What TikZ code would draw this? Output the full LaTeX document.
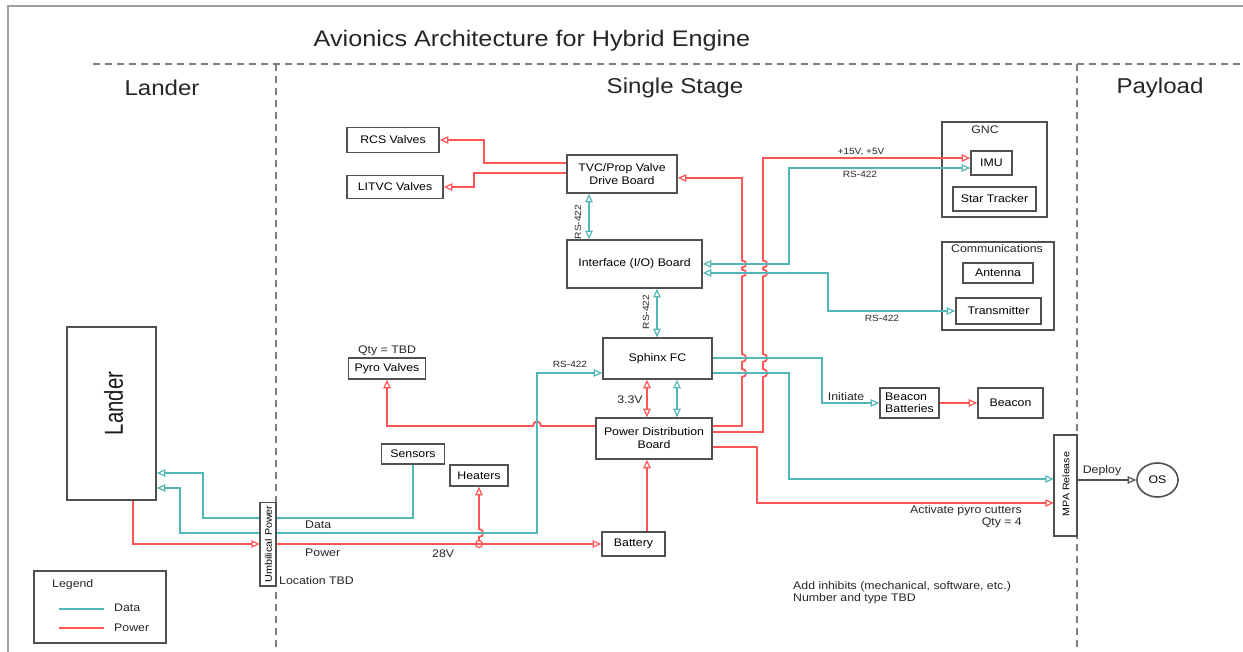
\documentclass[tikz,border=0pt]{standalone}
\usepackage{fontspec}
\setmainfont{Liberation Sans}[FakeStretch=1.12]
\newfontfamily\landerfont{Liberation Sans}[FakeStretch=0.78]
\usetikzlibrary{arrows.meta,calc,shapes.geometric}
\definecolor{dteal}{RGB}{82,182,182}
\definecolor{pred}{RGB}{255,84,84}
\definecolor{bx}{RGB}{80,80,80}
\definecolor{dsh}{RGB}{125,125,125}
\newcommand{\fbody}{\fontsize{11}{13}\selectfont}
\newcommand{\fsmall}{\fontsize{9}{11}\selectfont}
\newcommand{\ftitle}{\fontsize{22.5}{26}\selectfont}
\newcommand{\fhead}{\fontsize{21.5}{25}\selectfont}
\newcommand{\fbig}{\landerfont\fontsize{26}{30}\selectfont}
\newcommand{\ftwo}{\fontsize{11}{12}\selectfont}
\tikzset{
  box/.style={draw=bx, line width=1.6pt, fill=white, inner sep=1pt, font=\fbody, align=center},
  dl/.style={draw=dteal, line width=1.8pt},
  pl/.style={draw=pred, line width=1.8pt},
  gl/.style={draw=bx, line width=1.6pt},
  lbl/.style={font=\fbody, inner sep=0pt, text=black!85},
  slbl/.style={font=\fsmall, inner sep=0pt, text=black!85},
  >={Triangle[open,length=8.5pt,width=7.5pt,line width=1.2pt]},
}
\begin{document}
\begin{tikzpicture}[x=1pt,y=-1pt]
\useasboundingbox (0,0) rectangle (1243,652);
% frame
\draw[gray!75, line width=2pt] (8,652) -- (8,6) -- (1243,6);
% section dividers
\draw[dsh, line width=1.4pt, dash pattern=on 7pt off 5pt] (93,64) -- (1243,64);
\draw[dsh, line width=1.4pt, dash pattern=on 7pt off 5pt] (276,64) -- (276,652);
\draw[dsh, line width=1.4pt, dash pattern=on 7pt off 5pt] (1077,64) -- (1077,652);
% titles
\node[font=\ftitle, text=black!85] (title) at (532,41) {Avionics Architecture for Hybrid Engine};
\node[font=\fhead, text=black!85] (hlander) at (162,88) {Lander};
\node[font=\fhead, text=black!85] (hsingle) at (675,88) {Single Stage};
\node[font=\fhead, text=black!85] (hpay) at (1160,88) {Payload};

% group boxes
\node[box, minimum width=105, minimum height=95] (gnc) at (994.5,169.5) {};
\node[lbl] (gnclbl) at (985,130) {GNC};
\node[box, minimum width=112, minimum height=88] (comm) at (998,286) {};
\node[lbl] (commlbl) at (997,249) {Communications};

% boxes
\node[box, minimum width=92, minimum height=25] (rcs) at (393,140) {RCS Valves};
\node[box, minimum width=96, minimum height=23] (litvc) at (395,187) {LITVC Valves};
\node[box, minimum width=110, minimum height=38] (tvc) at (622,174) {TVC/Prop Valve\\Drive Board};
\node[box, minimum width=135, minimum height=48] (io) at (634.5,264) {Interface (I/O) Board};
\node[box, minimum width=109, minimum height=41] (sphinx) at (657.5,358.5) {Sphinx FC};
\node[box, minimum width=116, minimum height=41] (pdb) at (654,438.5) {Power Distribution\\Board};
\node[box, minimum width=77, minimum height=21] (pyro) at (387,368.5) {Pyro Valves};
\node[lbl] (pyroqty) at (387,351) {Qty = TBD};
\node[box, minimum width=63, minimum height=20] (sensors) at (413,454) {Sensors};
\node[box, minimum width=58, minimum height=21] (heaters) at (479,475.5) {Heaters};
\node[box, minimum width=63, minimum height=24] (battery) at (633.5,544) {Battery};
\node[box, minimum width=41, minimum height=24] (imu) at (991.5,163) {IMU};
\node[box, minimum width=83, minimum height=24] (star) at (994.5,199) {Star Tracker};
\node[box, minimum width=70, minimum height=20] (antenna) at (998,273) {Antenna};
\node[box, minimum width=85, minimum height=26] (tx) at (998.5,311) {Transmitter};
\node[box, minimum width=59, minimum height=30, align=left, font=\ftwo] (bb) at (909.5,403) {Beacon\\Batteries};
\node[box, minimum width=65, minimum height=30] (beacon) at (1010.5,403) {Beacon};
\node[box, ellipse, minimum width=41, minimum height=34, inner sep=0pt] (os) at (1157.5,480) {OS};
\node[box, minimum width=89, minimum height=173] (lander) at (111.5,413.5) {};
\node[font=\fbig, rotate=90, text=black!90, inner sep=0pt] (landertxt) at (113.5,403.5) {Lander};
% placeholders for boxes drawn later over the lines
\node[minimum width=16, minimum height=83, inner sep=0pt] (umb) at (268,544) {};
\node[minimum width=23, minimum height=101, inner sep=0pt] (mpa) at (1065.5,485.5) {};

% ---------- power connectors ----------
\draw[pl,->] ($(tvc.west)+(0,-11)$) -- ++(-82,0) |- (rcs.east);
\draw[pl,->] ($(tvc.west)+(0,-1)$) -- ++(-92,0) |- (litvc.east);
\draw[pl,->] ($(pdb.east)+(0,-12.5)$) -- (742,426) -- (742,377)
  .. controls (747.5,377) and (747.5,369) .. (742,369) -- (742,362)
  .. controls (747.5,362) and (747.5,354) .. (742,354) -- (742,276.5)
  .. controls (747.5,276.5) and (747.5,269.5) .. (742,269.5) -- (742,267.5)
  .. controls (747.5,267.5) and (747.5,260.5) .. (742,260.5) -- (742,178) -- ($(tvc.east)+(0,4)$);
\draw[pl,->] ($(pdb.east)+(0,-6.5)$) -- (763,432) -- (763,377)
  .. controls (768.5,377) and (768.5,369) .. (763,369) -- (763,362)
  .. controls (768.5,362) and (768.5,354) .. (763,354) -- (763,276.5)
  .. controls (768.5,276.5) and (768.5,269.5) .. (763,269.5) -- (763,267.5)
  .. controls (768.5,267.5) and (768.5,260.5) .. (763,260.5) -- (763,158) -- ($(imu.west)+(0,-5)$);
\draw[pl,->] ($(pdb.east)+(0,8.5)$) -- (757,447) -- (757,503) -- ($(mpa.west)+(0,17.5)$);
\draw[pl,->] ($(pdb.west)+(0,-12.5)$) -- (541,426)
  .. controls (541,420) and (533,420) .. (533,426) -- (387,426) -- (pyro.south);
\draw[pl,<->] ($(sphinx.south)+(-10.5,0)$) -- ($(pdb.north)+(-7,0)$);
\draw[pl,->] ($(battery.north)+(13.5,0)$) -- ($(pdb.south)+(-7,0)$);
\draw[pl,->] ($(lander.south)+(21.5,0)$) |- (umb.west);
\draw[pl,->] (umb.east) -- (battery.west);
\draw[pl, line width=1.2pt] (479,544) circle[radius=3.5];
\draw[pl,->] (479,540.5) -- (479,537) .. controls (484.5,537) and (484.5,529) .. (479,529) -- (heaters.south);
\draw[pl,->] (bb.east) -- (beacon.west);

% ---------- data connectors ----------
\draw[dl,<->] ($(tvc.south)+(-33,0)$) -- ($(io.north)+(-45.5,0)$);
\draw[dl,<->] ($(io.south)+(22.5,0)$) -- ($(sphinx.north)+(-0.5,0)$);
\draw[dl,<->] ($(sphinx.south)+(19.5,0)$) -- ($(pdb.north)+(23,0)$);
\draw[dl,<->] (io.east) -- (789,264) -- (789,168) -- ($(imu.west)+(0,5)$);
\draw[dl,<->] ($(io.east)+(0,9)$) -- (828,273) -- (828,311) -- (tx.west);
\draw[dl,->] ($(sphinx.east)+(0,-0.5)$) -- (822,358) |- (bb.west);
\draw[dl,->] ($(sphinx.east)+(0,14.5)$) -- (789,373) -- (789,479) -- ($(mpa.west)+(0,-6.5)$);
\draw[dl,<->] ($(sphinx.west)+(0,14.5)$) -- (537,373) -- (537,533) -- (180,533) -- (180,488) -- ($(lander.east)+(0,74.5)$);
\draw[dl,->] (sensors.south) -- (413,518) -- (203,518) -- (203,473) -- ($(lander.east)+(0,59.5)$);

% umbilical and MPA release boxes (drawn over lines)
\draw[gl, fill=white] (umb.south west) rectangle (umb.north east);
\node[font=\fontsize{9.6}{11}\selectfont, rotate=90, inner sep=0pt] (umbtxt) at (268.5,544) {Umbilical Power};
\draw[gl, fill=white] (mpa.south west) rectangle (mpa.north east);
\node[font=\fontsize{9.5}{11}\selectfont, rotate=90, inner sep=0pt] (mpatxt) at (1066,484) {MPA Release};

\draw[gl,->] ($(mpa.east)+(0,-5.5)$) -- (os.west);

% labels
\node[slbl] (l15) at (861,152) {+15V, +5V};
\node[slbl] (lrs1) at (860,174) {RS-422};
\node[slbl] (lrs2) at (882,318) {RS-422};
\node[slbl] (lrs3) at (570,364) {RS-422};
\node[slbl, rotate=90] (lrs4) at (578,222) {RS-422};
\node[slbl, rotate=90] (lrs5) at (646,312) {RS-422};
\node[lbl] (linit) at (846,397) {Initiate};
\node[lbl] (l33) at (630,400) {3.3V};
\node[lbl, anchor=west] (ldata) at (305,525) {Data};
\node[lbl, anchor=west] (lpower) at (305,553) {Power};
\node[lbl, anchor=west] (l28) at (432,554) {28V};
\node[lbl, anchor=west] (lloc) at (279,581) {Location TBD};
\node[lbl] (ldeploy) at (1102,471) {Deploy};
\node[lbl, anchor=north east, align=right, font=\ftwo] (lact) at (1022,505) {Activate pyro cutters\\Qty = 4};
\node[lbl, anchor=north west, align=left, font=\ftwo] (linh) at (793,581) {Add inhibits (mechanical, software, etc.)\\Number and type TBD};

% legend
\node[box, minimum width=132, minimum height=72] (legend) at (100,607) {};
\node[lbl, anchor=west] (leglbl) at (52,585) {Legend};
\draw[dl] (59,609) -- (104,609);
\draw[pl] (59,628) -- (104,628);
\node[lbl, anchor=west] (legdata) at (114,608) {Data};
\node[lbl, anchor=west] (legpow) at (114,628) {Power};
\end{tikzpicture}
\end{document}
